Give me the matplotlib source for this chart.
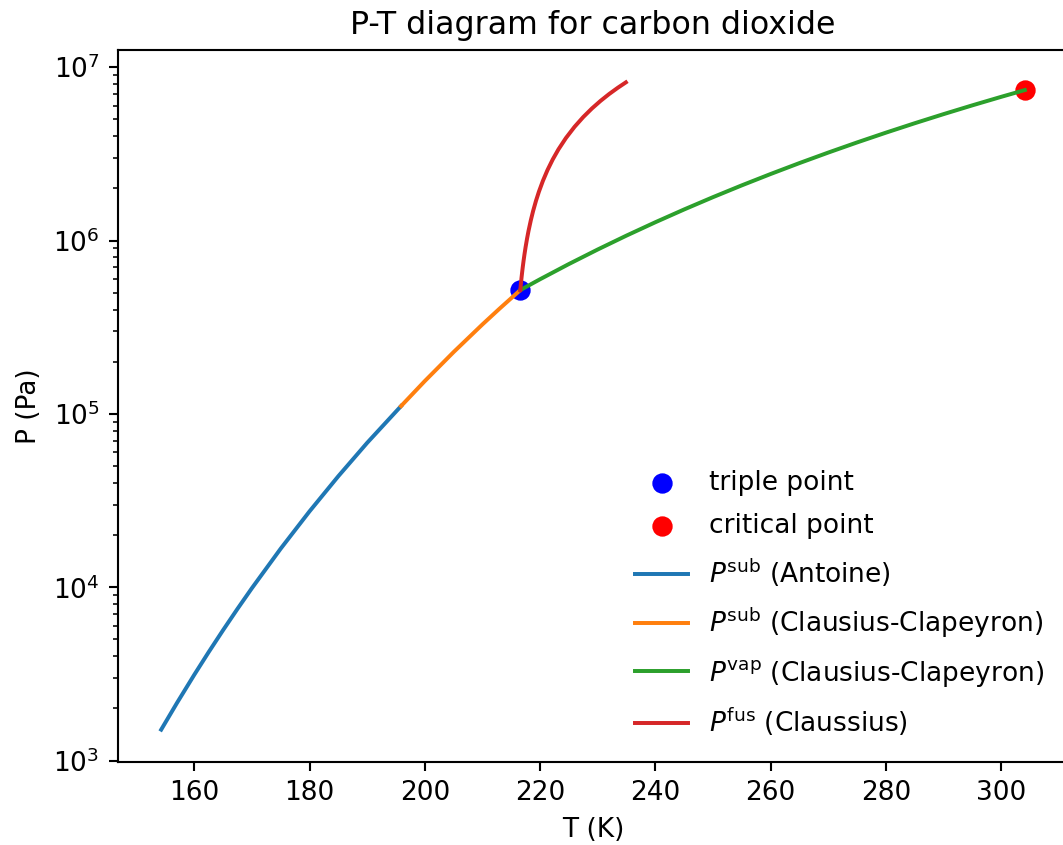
import matplotlib
matplotlib.use("Agg")
import matplotlib.pyplot as plt

# Data
T_triple = [216.58]
P_triple = [5.18e5]
T_crit = [304.13]
P_crit = [7.38e6]

T_sub_ant = [154.26, 157.0, 160.0, 162.5, 165.0, 167.5, 170.0, 175.0, 180.0, 185.0, 190.0, 195.89]
P_sub_ant = [1509, 2151, 3127, 4226, 5657, 7507, 9879, 16700, 27400, 43720, 68080, 111000]

T_sub_cc = [195.89, 200.0, 205.0, 210.0, 213.0, 216.58]
P_sub_cc = [1.1098e5, 1.546e5, 2.2725e5, 3.2801e5, 4.0536e5, 5.18e5]

T_vap = [216.58, 220.0, 225.0, 230.0, 235.0, 240.0, 245.0, 250.0, 255.0, 260.0,
         265.0, 270.0, 275.0, 280.0, 285.0, 290.0, 295.0, 300.0, 304.13]
P_vap = [5.18e5, 5.979e5, 7.317e5, 8.875e5, 1.0678e6, 1.2747e6, 1.5108e6, 1.7786e6,
         2.0805e6, 2.4189e6, 2.7965e6, 3.2156e6, 3.6791e6, 4.1889e6, 4.7475e6,
         5.3575e6, 6.0215e6, 6.7412e6, 7.38e6]

T_fus = [216.58, 216.6, 216.63, 216.67, 216.72, 216.8, 216.9, 217.0, 217.15, 217.3,
         217.5, 217.75, 218.0, 218.4, 218.8, 219.3, 219.8, 220.5, 221.3, 222.2,
         223.2, 224.5, 226.0, 227.5, 229.0, 230.5, 232.0, 233.5, 234.9]
P_fus = [5.18e5, 5.267e5, 5.398e5, 5.572e5, 5.789e5, 6.137e5, 6.572e5, 7.007e5,
         7.659e5, 8.310e5, 9.177e5, 1.0261e6, 1.1343e6, 1.3071e6, 1.4797e6,
         1.6949e6, 1.9097e6, 2.2095e6, 2.5510e6, 2.9338e6, 3.3572e6, 3.9050e6,
         4.5329e6, 5.1566e6, 5.7763e6, 6.3918e6, 7.0037e6, 7.6107e6, 8.1751e6]

labels = ["triple point", "critical point",
          r"$P^{\mathrm{sub}}$ (Antoine)",
          r"$P^{\mathrm{sub}}$ (Clausius-Clapeyron)",
          r"$P^{\mathrm{vap}}$ (Clausius-Clapeyron)",
          r"$P^{\mathrm{fus}}$ (Claussius)"]

dpi = 190
fig = plt.figure(figsize=(1063 / dpi, 845 / dpi), dpi=dpi)
ax = fig.add_axes([118 / 1063, 83 / 845, 950 / 1063, 712 / 845])

h1 = ax.scatter(T_triple, P_triple, color="blue", s=45, label=labels[0])
h2 = ax.scatter(T_crit, P_crit, color="red", s=45, label=labels[1])
l1, = ax.plot(T_sub_ant, P_sub_ant, color="C0", label=labels[2])
l2, = ax.plot(T_sub_cc, P_sub_cc, color="C1", label=labels[3])
l3, = ax.plot(T_vap, P_vap, color="C2", label=labels[4])
l4, = ax.plot(T_fus, P_fus, color="C3", label=labels[5])

ax.set_yscale("log")
ax.set_xlabel("T (K)")
ax.set_ylabel("P (Pa)")
ax.set_title("P-T diagram for carbon dioxide")
ax.legend(handles=[h1, h2, l1, l2, l3, l4], loc="lower right", frameon=False,
          labelspacing=0.65)

fig.savefig("out.png", dpi=dpi)
